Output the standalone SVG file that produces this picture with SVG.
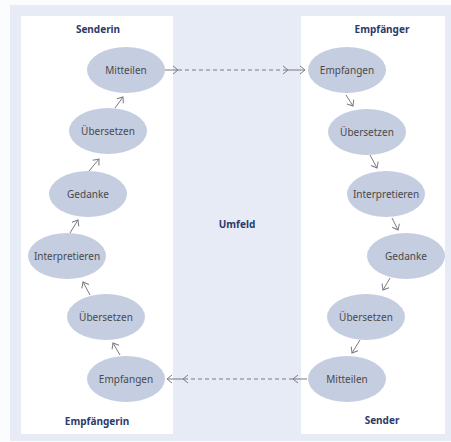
<svg xmlns="http://www.w3.org/2000/svg" width="451" height="442" viewBox="0 0 451 442">
<defs>
<style>
.node ellipse{fill:#c5cde1;}
.node text{font-family:"Noto Sans","Open Sans",sans-serif;font-size:10px;fill:#4a4a4a;text-anchor:middle;}
.lbl{font-family:"Noto Sans","Open Sans",sans-serif;font-size:10px;font-weight:bold;fill:#2b3b6a;text-anchor:middle;}
.c{stroke:#7a7a82;stroke-width:1;fill:none;marker-end:url(#ch);}
.d{stroke-dasharray:4,3;}
</style>
<marker id="ch" markerWidth="8" markerHeight="10" refX="6" refY="5" orient="auto" markerUnits="userSpaceOnUse">
<path d="M1,1 L6,5 L1,9" fill="none" stroke="#7a7a82" stroke-width="1"/>
</marker>
</defs>
<rect x="0" y="0" width="451" height="442" fill="#fbfcfe"/>
<rect x="10" y="5" width="441" height="436" fill="#e6ebf5"/>
<rect x="21" y="16" width="152" height="418" fill="#ffffff"/>
<rect x="301" y="16" width="144" height="418" fill="#ffffff"/>

<text class="lbl" x="98" y="33">Senderin</text>
<text class="lbl" x="382" y="33">Empfänger</text>
<text class="lbl" x="237" y="228">Umfeld</text>
<text class="lbl" x="97" y="425">Empfängerin</text>
<text class="lbl" x="382" y="424">Sender</text>

<g id="connectors">
<path class="c" d="M163,70 L178,70"/>
<path class="c d" d="M178,70 L288,70"/>
<path class="c" d="M288,70 L305,70"/>
<path class="c" d="M307,379 L293,379"/>
<path class="c d" d="M293,379 L183,379"/>
<path class="c" d="M183,379 L167,379"/>
<path class="c" d="M115,108 L123,97"/>
<path class="c" d="M89,171 L99,159"/>
<path class="c" d="M70,233 L78,220"/>
<path class="c" d="M90,295 L83,282"/>
<path class="c" d="M120,355 L113,343"/>
<path class="c" d="M346,95 L353,106"/>
<path class="c" d="M370,155 L377,168"/>
<path class="c" d="M392,218 L398,230"/>
<path class="c" d="M390,278 L383,290"/>
<path class="c" d="M360,340 L352,353"/>
</g>

<g id="l-mitteilen" class="node"><ellipse cx="126" cy="70" rx="39" ry="23"/><text x="126" y="74">Mitteilen</text></g>
<g id="l-uebersetzen1" class="node"><ellipse cx="108" cy="131" rx="39" ry="23"/><text x="108" y="135">Übersetzen</text></g>
<g id="l-gedanke" class="node"><ellipse cx="88" cy="194" rx="39" ry="23"/><text x="88" y="198">Gedanke</text></g>
<g id="l-interpretieren" class="node"><ellipse cx="67" cy="256" rx="39" ry="23"/><text x="67" y="260">Interpretieren</text></g>
<g id="l-uebersetzen2" class="node"><ellipse cx="106" cy="317" rx="39" ry="23"/><text x="106" y="321">Übersetzen</text></g>
<g id="l-empfangen" class="node"><ellipse cx="126" cy="379" rx="39" ry="23"/><text x="126" y="383">Empfangen</text></g>

<g id="r-empfangen" class="node"><ellipse cx="347" cy="70" rx="39" ry="23"/><text x="347" y="74">Empfangen</text></g>
<g id="r-uebersetzen1" class="node"><ellipse cx="367" cy="132" rx="39" ry="23"/><text x="367" y="136">Übersetzen</text></g>
<g id="r-interpretieren" class="node"><ellipse cx="386" cy="194" rx="39" ry="23"/><text x="386" y="198">Interpretieren</text></g>
<g id="r-gedanke" class="node"><ellipse cx="406" cy="256" rx="39" ry="23"/><text x="406" y="260">Gedanke</text></g>
<g id="r-uebersetzen2" class="node"><ellipse cx="366" cy="317" rx="39" ry="23"/><text x="366" y="321">Übersetzen</text></g>
<g id="r-mitteilen" class="node"><ellipse cx="347" cy="379" rx="39" ry="23"/><text x="347" y="383">Mitteilen</text></g>
</svg>
